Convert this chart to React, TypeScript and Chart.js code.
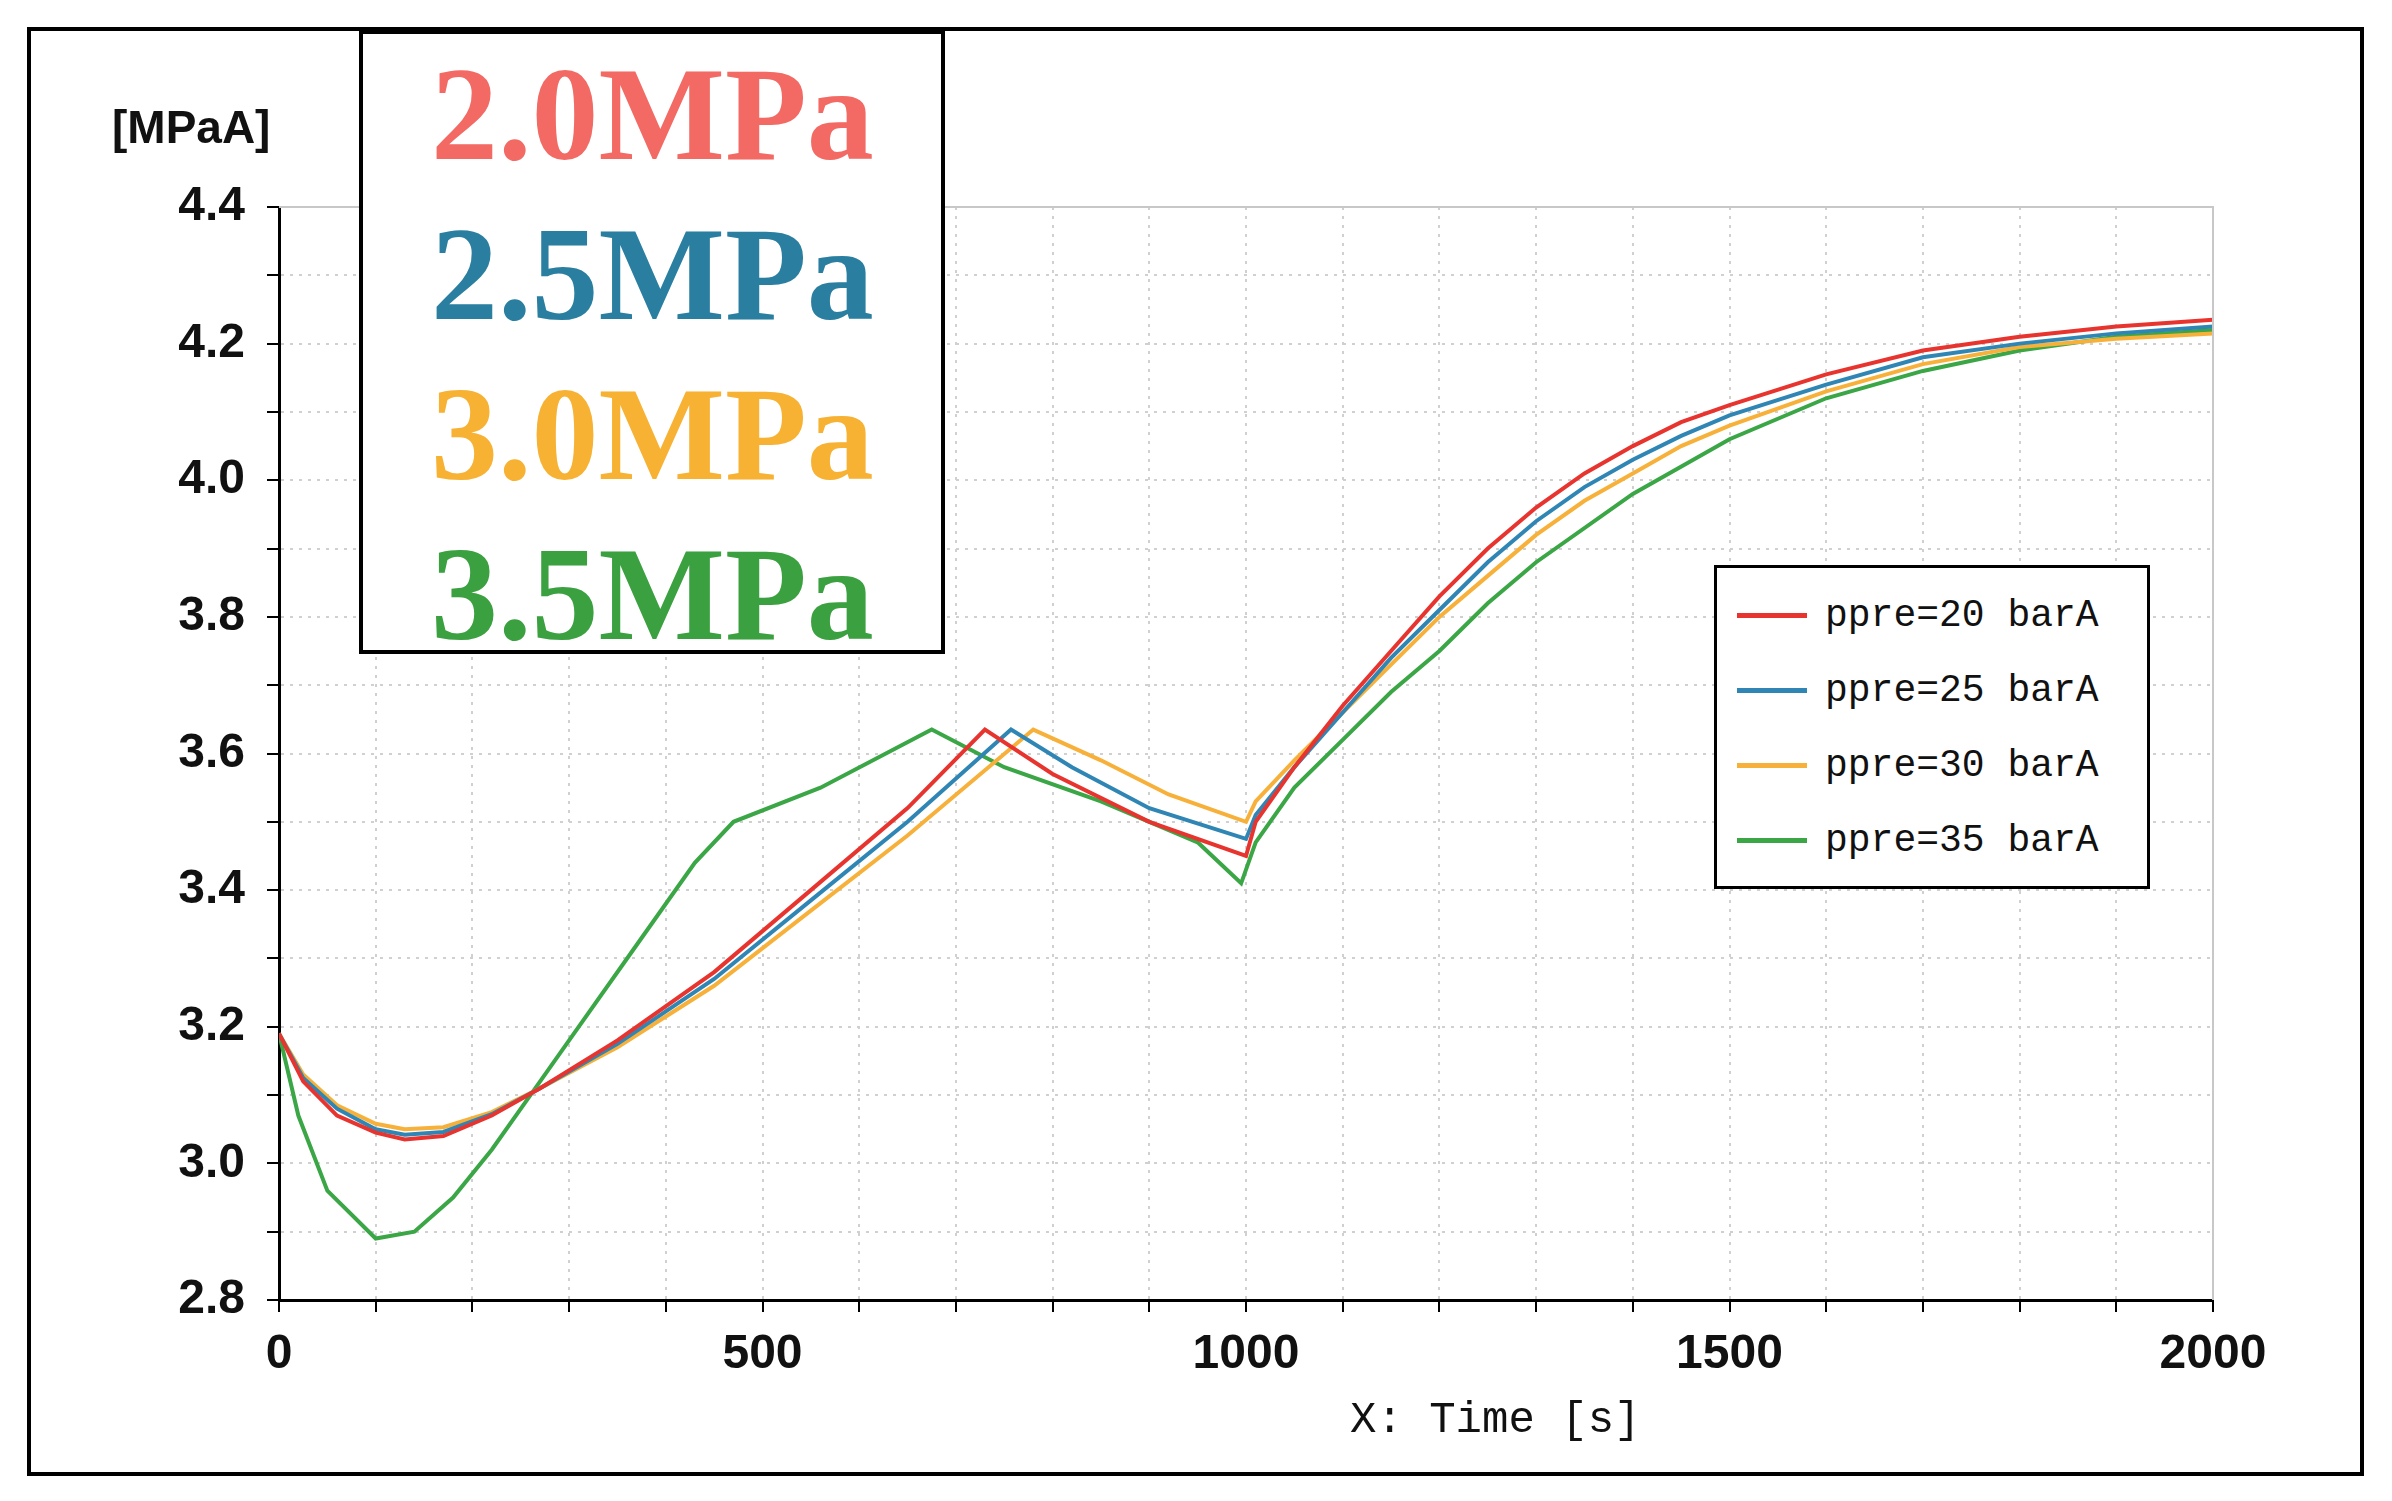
import React, { useEffect, useRef } from "react";
import { Chart, registerables } from "chart.js";
Chart.register(...registerables);

const seriesNames = ["ppre=20 barA", "ppre=25 barA", "ppre=30 barA", "ppre=35 barA"];
const colors = ["#e8342f", "#2f86b4", "#f7b13a", "#3aa645"];
const boxLabels = ["2.0MPa", "2.5MPa", "3.0MPa", "3.5MPa"];
const boxColors = ["#f26a63", "#2a7fa0", "#f7b133", "#3aa040"];

const t20 = [0, 25, 60, 100, 130, 170, 220, 270, 350, 450, 550, 650, 730, 800, 900, 1000, 1010, 1050, 1100, 1150, 1200, 1250, 1300, 1350, 1400, 1450, 1500, 1600, 1700, 1800, 1900, 2000];
const v20 = [3.19, 3.12, 3.07, 3.045, 3.035, 3.04, 3.07, 3.11, 3.18, 3.28, 3.4, 3.52, 3.635, 3.57, 3.5, 3.45, 3.5, 3.58, 3.67, 3.75, 3.83, 3.9, 3.96, 4.01, 4.05, 4.085, 4.11, 4.155, 4.19, 4.21, 4.225, 4.235];
const t25 = [0, 25, 60, 100, 130, 170, 220, 270, 350, 450, 550, 650, 757, 820, 900, 1000, 1010, 1050, 1100, 1150, 1200, 1250, 1300, 1350, 1400, 1450, 1500, 1600, 1700, 1800, 1900, 2000];
const v25 = [3.19, 3.125, 3.08, 3.05, 3.042, 3.046, 3.072, 3.11, 3.175, 3.27, 3.385, 3.5, 3.635, 3.58, 3.52, 3.475, 3.51, 3.58, 3.66, 3.74, 3.81, 3.88, 3.94, 3.99, 4.03, 4.065, 4.095, 4.14, 4.18, 4.2, 4.215, 4.225];
const t30 = [0, 25, 60, 100, 130, 170, 220, 270, 350, 450, 550, 650, 780, 850, 920, 1000, 1010, 1050, 1100, 1150, 1200, 1250, 1300, 1350, 1400, 1450, 1500, 1600, 1700, 1800, 1900, 2000];
const v30 = [3.19, 3.13, 3.085, 3.058, 3.05, 3.053, 3.075, 3.11, 3.17, 3.26, 3.37, 3.48, 3.635, 3.59, 3.54, 3.5, 3.53, 3.59, 3.66, 3.73, 3.8, 3.86, 3.92, 3.97, 4.01, 4.05, 4.08, 4.13, 4.17, 4.195, 4.207, 4.215];
const t35 = [0, 20, 50, 100, 140, 180, 220, 260, 300, 370, 430, 470, 560, 675, 750, 850, 950, 995, 1010, 1050, 1100, 1150, 1200, 1250, 1300, 1400, 1500, 1600, 1700, 1800, 1900, 2000];
const v35 = [3.19, 3.07, 2.96, 2.89, 2.9, 2.95, 3.02, 3.1, 3.18, 3.32, 3.44, 3.5, 3.55, 3.635, 3.58, 3.53, 3.47, 3.41, 3.47, 3.55, 3.62, 3.69, 3.75, 3.82, 3.88, 3.98, 4.06, 4.12, 4.16, 4.19, 4.21, 4.22];

const times = [t20, t25, t30, t35];
const values = [v20, v25, v30, v35];

export default function App() {
  const ref = useRef<HTMLCanvasElement>(null);
  useEffect(() => {
    const frame = {
      id: "frame",
      afterDraw(c: any) {
        const a = c.chartArea, ctx = c.ctx;
        ctx.save();
        ctx.strokeStyle = "#c8c8c8";
        ctx.lineWidth = 2;
        ctx.beginPath();
        ctx.moveTo(a.left, a.top);
        ctx.lineTo(a.right, a.top);
        ctx.lineTo(a.right, a.bottom);
        ctx.stroke();
        ctx.restore();
      },
    };
    const chart = new Chart(ref.current!, {
      type: "line",
      data: {
        datasets: seriesNames.map((n, i) => ({
          label: n,
          data: times[i].map((t, j) => ({ x: t, y: values[i][j] })),
          borderColor: colors[i],
          borderWidth: 4,
          pointRadius: 0,
          tension: 0,
        })),
      },
      options: {
        animation: false,
        responsive: false,
        layout: { padding: { left: 159, right: 179, top: 207, bottom: 101 } },
        plugins: { legend: { display: false }, tooltip: { enabled: false } },
        scales: {
          x: {
            type: "linear",
            min: 0,
            max: 2000,
            afterFit: (s: any) => { s.height = 100; },
            ticks: {
              stepSize: 100,
              autoSkip: false,
              maxRotation: 0,
              padding: 14,
              color: "#111",
              font: { family: "Liberation Sans", size: 48, weight: "bold" },
              callback: (v: any) => (Math.round(v) % 500 === 0 ? String(v) : ""),
            },
            grid: { color: "#d0d0d0", lineWidth: 2, tickColor: "#000", tickLength: 12 },
            border: { color: "#000", width: 3, dash: [3, 6] },
          },
          y: {
            min: 2.8,
            max: 4.4,
            afterFit: (s: any) => { s.width = 120; },
            ticks: {
              stepSize: 0.1,
              autoSkip: false,
              padding: 22,
              color: "#111",
              font: { family: "Liberation Sans", size: 48, weight: "bold" },
              callback: (v: any) => (Math.round(v * 10) % 2 === 0 ? Number(v).toFixed(1) : ""),
            },
            grid: { color: "#d0d0d0", lineWidth: 2, tickColor: "#000", tickLength: 12 },
            border: { color: "#000", width: 3, dash: [3, 6] },
          },
        },
      },
      plugins: [frame],
    });
    return () => chart.destroy();
  }, []);

  return (
    <div style={{ position: "absolute", left: 0, top: 0, width: 2392, height: 1501, background: "#fff" }}>
      <div style={{ position: "absolute", left: 27, top: 27, width: 2329, height: 1441, border: "4px solid #000" }} />
      <canvas ref={ref} width={2392} height={1501} style={{ position: "absolute", left: 0, top: 0 }} />
      <div style={{ position: "absolute", left: 112, top: 100, fontFamily: "Liberation Sans", fontWeight: "bold", fontSize: 46, color: "#111" }}>[MPaA]</div>
      <div style={{ position: "absolute", left: 1350, top: 1395, fontFamily: "Liberation Mono", fontSize: 44, color: "#111" }}>X: Time [s]</div>
      <div style={{ position: "absolute", left: 359, top: 30, width: 578, height: 616, border: "4px solid #000", background: "#fff" }}>
        {boxLabels.map((l, i) => (
          <div key={l} style={{ position: "absolute", left: 68, top: 0 + i * 160, fontFamily: "Liberation Serif", fontWeight: "bold", fontSize: 134, lineHeight: "160px", color: boxColors[i] }}>{l}</div>
        ))}
      </div>
      <div style={{ position: "absolute", left: 1714, top: 565, width: 430, height: 318, border: "3px solid #000", background: "#fff" }}>
        {seriesNames.map((n, i) => (
          <div key={n} style={{ position: "absolute", left: 20, top: 26 + i * 75, display: "flex", alignItems: "center" }}>
            <div style={{ width: 70, height: 5, background: colors[i], marginRight: 18 }} />
            <span style={{ fontFamily: "Liberation Mono", fontSize: 38, color: "#111" }}>{n}</span>
          </div>
        ))}
      </div>
    </div>
  );
}
